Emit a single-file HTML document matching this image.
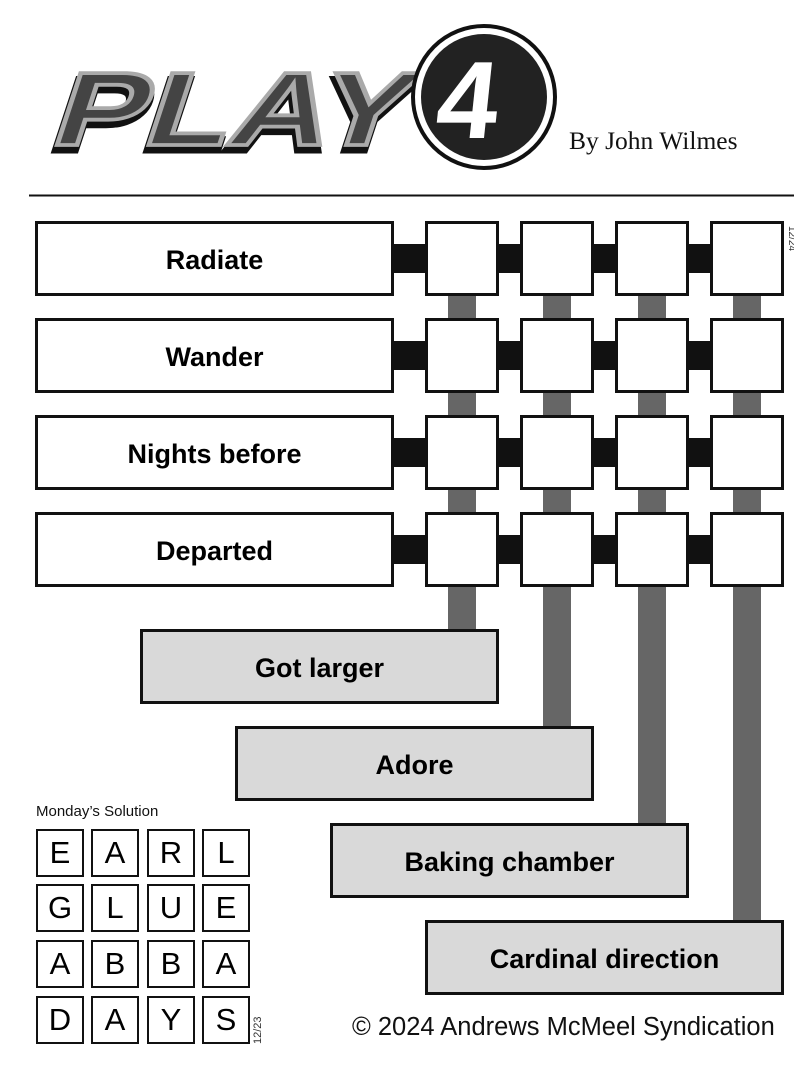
<!DOCTYPE html>
<html><head><meta charset="utf-8"><style>
body{margin:0;background:#fff;}
.wrap{position:relative;width:794px;height:1078px;overflow:hidden;font-family:"Liberation Sans",sans-serif;}
.a{position:absolute;box-sizing:border-box;}
.clue{border:3px solid #111;background:#fff;font-weight:bold;font-size:27px;display:flex;align-items:center;justify-content:center;padding-top:4px;}
.g{background:#d9d9d9;}
.sq{border:3px solid #111;background:#fff;}
.bar{background:#111;}
.v{background:#666;}
.s{border:2px solid #111;font-size:31px;display:flex;align-items:center;justify-content:center;width:48px;height:48px;}
</style></head><body><div class="wrap">
<svg class="a" style="left:0;top:0" width="794" height="200">
<g transform="translate(48,145) scale(1.25,0.95) skewX(-14)">
<text x="0" y="6" font-family="Liberation Sans" font-weight="bold" font-size="110" fill="#111" stroke="#111" stroke-width="6">PLAY</text>
<text x="0" y="0" font-family="Liberation Sans" font-weight="bold" font-size="110" fill="#444" stroke="#aaa" stroke-width="4">PLAY</text>
</g>
<circle cx="484" cy="97" r="71" fill="#fff" stroke="#111" stroke-width="4"/>
<circle cx="484" cy="97" r="63" fill="#222"/>
<text x="436" y="138" font-family="Liberation Sans" font-weight="bold" font-size="110" fill="#fff" transform="skewX(-6) translate(12,0)">4</text>
<text x="569" y="149" font-family="Liberation Serif" font-size="25.5" fill="#111">By John Wilmes</text>
<line x1="29" y1="195.5" x2="794" y2="195.5" stroke="#111" stroke-width="2"/>
</svg>

<div class="a v" style="left:448px;top:290px;width:28px;height:342px"></div>
<div class="a v" style="left:543px;top:290px;width:28px;height:439px"></div>
<div class="a v" style="left:638px;top:290px;width:28px;height:536px"></div>
<div class="a v" style="left:733px;top:290px;width:28px;height:633px"></div>

<div class="a bar" style="left:390px;top:244px;width:380px;height:29px"></div>
<div class="a bar" style="left:390px;top:341px;width:380px;height:29px"></div>
<div class="a bar" style="left:390px;top:438px;width:380px;height:29px"></div>
<div class="a bar" style="left:390px;top:535px;width:380px;height:29px"></div>

<div class="a clue" style="left:35px;top:221px;width:359px;height:75px">Radiate</div>
<div class="a clue" style="left:35px;top:318px;width:359px;height:75px">Wander</div>
<div class="a clue" style="left:35px;top:415px;width:359px;height:75px">Nights before</div>
<div class="a clue" style="left:35px;top:512px;width:359px;height:75px">Departed</div>

<div class="a sq" style="left:425px;top:221px;width:74px;height:75px"></div>
<div class="a sq" style="left:520px;top:221px;width:74px;height:75px"></div>
<div class="a sq" style="left:615px;top:221px;width:74px;height:75px"></div>
<div class="a sq" style="left:710px;top:221px;width:74px;height:75px"></div>
<div class="a sq" style="left:425px;top:318px;width:74px;height:75px"></div>
<div class="a sq" style="left:520px;top:318px;width:74px;height:75px"></div>
<div class="a sq" style="left:615px;top:318px;width:74px;height:75px"></div>
<div class="a sq" style="left:710px;top:318px;width:74px;height:75px"></div>
<div class="a sq" style="left:425px;top:415px;width:74px;height:75px"></div>
<div class="a sq" style="left:520px;top:415px;width:74px;height:75px"></div>
<div class="a sq" style="left:615px;top:415px;width:74px;height:75px"></div>
<div class="a sq" style="left:710px;top:415px;width:74px;height:75px"></div>
<div class="a sq" style="left:425px;top:512px;width:74px;height:75px"></div>
<div class="a sq" style="left:520px;top:512px;width:74px;height:75px"></div>
<div class="a sq" style="left:615px;top:512px;width:74px;height:75px"></div>
<div class="a sq" style="left:710px;top:512px;width:74px;height:75px"></div>
<div class="a" style="top:226px;font-size:10px;color:#333;transform:rotate(90deg);transform-origin:0 0;left:797px">12/24</div>

<div class="a clue g" style="left:140px;top:629px;width:359px;height:75px">Got larger</div>
<div class="a clue g" style="left:235px;top:726px;width:359px;height:75px">Adore</div>
<div class="a clue g" style="left:330px;top:823px;width:359px;height:75px">Baking chamber</div>
<div class="a clue g" style="left:425px;top:920px;width:359px;height:75px">Cardinal direction</div>

<div class="a" style="left:36px;top:803px;font-size:15px;color:#111">Monday’s Solution</div>
<div class="a s" style="left:36px;top:829px">E</div>
<div class="a s" style="left:91px;top:829px">A</div>
<div class="a s" style="left:147px;top:829px">R</div>
<div class="a s" style="left:202px;top:829px">L</div>
<div class="a s" style="left:36px;top:884px">G</div>
<div class="a s" style="left:91px;top:884px">L</div>
<div class="a s" style="left:147px;top:884px">U</div>
<div class="a s" style="left:202px;top:884px">E</div>
<div class="a s" style="left:36px;top:940px">A</div>
<div class="a s" style="left:91px;top:940px">B</div>
<div class="a s" style="left:147px;top:940px">B</div>
<div class="a s" style="left:202px;top:940px">A</div>
<div class="a s" style="left:36px;top:996px">D</div>
<div class="a s" style="left:91px;top:996px">A</div>
<div class="a s" style="left:147px;top:996px">Y</div>
<div class="a s" style="left:202px;top:996px">S</div>
<div class="a" style="left:252px;top:1044px;font-size:11px;color:#333;transform:rotate(-90deg);transform-origin:0 0">12/23</div>

<div class="a" style="left:352px;top:1013px;font-size:25.5px;color:#111">© 2024 Andrews McMeel Syndication</div>
</div></body></html>
